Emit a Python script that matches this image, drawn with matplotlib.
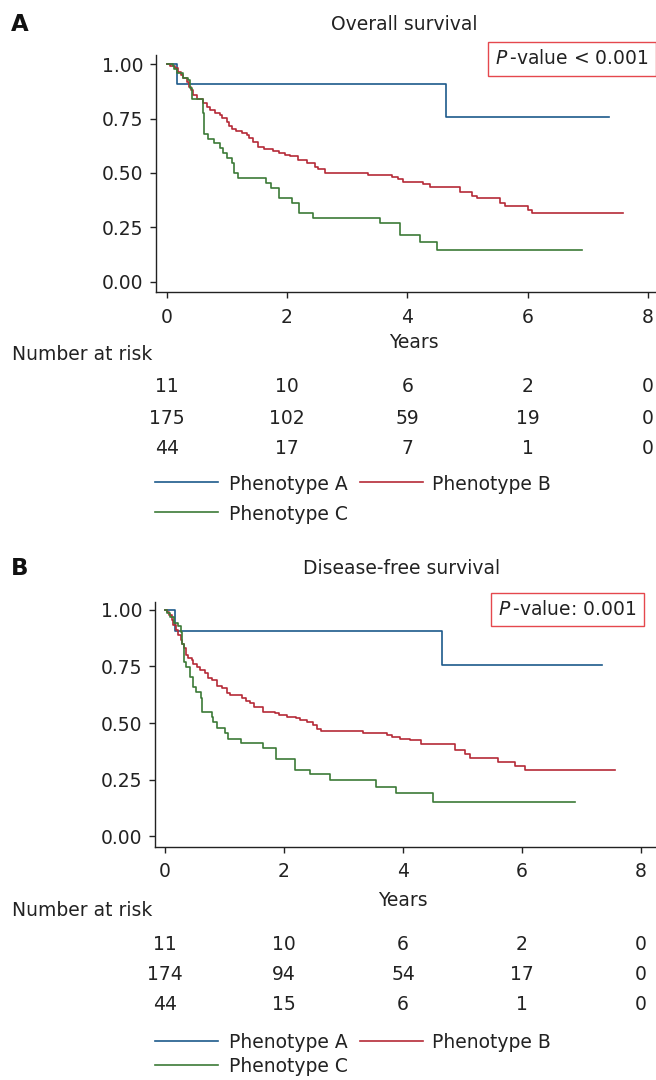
import numpy as np
import matplotlib
matplotlib.use('Agg')
import matplotlib.pyplot as plt
from matplotlib.lines import Line2D
from matplotlib.transforms import blended_transform_factory

# ---- data (years, survival probability) ----
os_a_t = [0, 0.17, 4.65, 7.35]
os_a_s = [1.0, 0.909, 0.758, 0.758]

os_b_t = [0, 0.055, 0.138, 0.194, 0.233, 0.277, 0.332, 0.377, 0.399, 0.443,
          0.498, 0.598, 0.665, 0.72, 0.803, 0.886, 0.914, 0.997, 1.04, 1.08,
          1.16, 1.25, 1.34, 1.36, 1.44, 1.51, 1.61, 1.77, 1.86, 1.97, 2.05,
          2.19, 2.33, 2.47, 2.52, 2.63, 3.35, 3.74, 3.85, 3.93, 4.26, 4.38,
          4.87, 5.07, 5.15, 5.54, 5.62, 6.01, 6.07, 7.58]
os_b_s = [1.0, 0.992, 0.981, 0.966, 0.951, 0.935, 0.92, 0.897, 0.882, 0.859,
          0.839, 0.821, 0.805, 0.79, 0.777, 0.767, 0.752, 0.736, 0.716, 0.701,
          0.692, 0.685, 0.675, 0.66, 0.644, 0.621, 0.609, 0.603, 0.593, 0.584,
          0.578, 0.56, 0.545, 0.529, 0.517, 0.501, 0.491, 0.483, 0.471, 0.46,
          0.448, 0.437, 0.414, 0.396, 0.384, 0.364, 0.35, 0.33, 0.315, 0.315]

os_c_t = [0, 0.1, 0.122, 0.166, 0.266, 0.36, 0.388, 0.427, 0.598, 0.626,
          0.692, 0.786, 0.886, 0.942, 0.997, 1.08, 1.12, 1.18, 1.65, 1.73,
          1.87, 2.08, 2.205, 2.44, 3.55, 3.88, 4.21, 4.5, 6.9]
os_c_s = [1.0, 0.992, 0.977, 0.958, 0.935, 0.928, 0.89, 0.839, 0.775, 0.679,
          0.656, 0.637, 0.614, 0.591, 0.568, 0.545, 0.501, 0.476, 0.453, 0.43,
          0.386, 0.36, 0.317, 0.294, 0.268, 0.215, 0.181, 0.146, 0.146]

dfs_a_t = [0, 0.168, 4.655, 7.35]
dfs_a_s = [1.0, 0.908, 0.757, 0.757]

dfs_b_t = [0, 0.04, 0.073, 0.112, 0.14, 0.185, 0.224, 0.263, 0.28, 0.319,
           0.353, 0.392, 0.448, 0.476, 0.543, 0.588, 0.672, 0.728, 0.784,
           0.879, 0.952, 1.036, 1.092, 1.288, 1.36, 1.43, 1.50, 1.65, 1.85,
           1.91, 2.05, 2.2, 2.27, 2.38, 2.48, 2.55, 2.63, 3.33, 3.73, 3.81,
           3.95, 4.12, 4.31, 4.87, 5.04, 5.13, 5.60, 5.88, 6.05, 7.57]
dfs_b_s = [1.0, 0.99, 0.978, 0.956, 0.934, 0.912, 0.889, 0.867, 0.848, 0.833,
           0.801, 0.789, 0.779, 0.76, 0.749, 0.735, 0.72, 0.70, 0.69, 0.665,
           0.656, 0.631, 0.624, 0.609, 0.597, 0.588, 0.569, 0.55, 0.543,
           0.535, 0.528, 0.521, 0.513, 0.503, 0.491, 0.473, 0.464, 0.457,
           0.447, 0.44, 0.429, 0.425, 0.406, 0.381, 0.361, 0.344, 0.329,
           0.311, 0.292, 0.292]

dfs_c_t = [0, 0.039, 0.084, 0.151, 0.224, 0.263, 0.28, 0.319, 0.353, 0.42,
           0.476, 0.521, 0.599, 0.616, 0.784, 0.812, 0.868, 1.008, 1.064,
           1.277, 1.64, 1.87, 2.18, 2.43, 2.78, 3.54, 3.89, 4.50, 6.89]
dfs_c_s = [1.0, 0.985, 0.97, 0.941, 0.93, 0.904, 0.848, 0.771, 0.749, 0.705,
           0.661, 0.636, 0.609, 0.547, 0.528, 0.503, 0.476, 0.454, 0.429,
           0.41, 0.388, 0.339, 0.292, 0.273, 0.248, 0.218, 0.189, 0.149, 0.149]

risk_times = [0, 2, 4, 6, 8]
os_risk = [[11, 10, 6, 2, 0], [175, 102, 59, 19, 0], [44, 17, 7, 1, 0]]
dfs_risk = [[11, 10, 6, 2, 0], [174, 94, 54, 17, 0], [44, 15, 6, 1, 0]]

groups = ['Phenotype A', 'Phenotype B', 'Phenotype C']
colors = ['#1d5a8b', '#b52a37', '#3c7a37']

W, H = 656, 1080
FS = 13.5
plt.rcParams['font.family'] = ['DejaVu Sans']
plt.rcParams['mathtext.fontset'] = 'dejavusans'

fig = plt.figure(figsize=(W / 100, H / 100), dpi=100)


def fx(px):
    return px / W


def fy(py):
    return 1 - py / H


def panel(letter, title, pval, curves, risk, box, geo, xlim, ylim, rows):
    left, right, top, bottom = geo
    ax = fig.add_axes([fx(left), fy(bottom), fx(right) - fx(left), fy(top) - fy(bottom)])
    for (t, s), c in zip(curves, colors):
        ax.step(t, s, where='post', color=c, lw=1.2)
    ax.set_xlim(*xlim)
    ax.set_ylim(*ylim)
    ax.set_xticks([0, 2, 4, 6, 8])
    ax.set_yticks([0, 0.25, 0.5, 0.75, 1.0])
    ax.set_yticklabels([f'{v:.2f}' for v in [0, 0.25, 0.5, 0.75, 1.0]])
    for side in ('top', 'right'):
        ax.spines[side].set_visible(False)
    for side in ('left', 'bottom'):
        ax.spines[side].set_color('#222222')
        ax.spines[side].set_linewidth(1.0)
    ax.tick_params(axis='both', direction='out', length=4.3, width=1.0,
                   color='#222222', labelsize=FS, labelcolor='#222222')
    ax.tick_params(axis='y', pad=5)
    ax.tick_params(axis='x', pad=7)

    # panel letter, title, p-value box
    fig.text(fx(20), fy(rows['letter']), letter, fontsize=16.5, fontweight='bold',
             ha='center', va='center_baseline', color='#111111')
    fig.text(fx(rows['title_x']), fy(rows['letter']), title, fontsize=FS,
             ha='center', va='center_baseline', color='#222222')
    fig.text(fx(box[0]), fy(box[1]), pval, fontsize=FS, ha='center',
             va='center_baseline', color='#222222',
             bbox=dict(boxstyle='square,pad=0.38', fc='white', ec='#e5484d', lw=1.0))

    fig.text(fx(rows['years_x']), fy(rows['years']), 'Years', fontsize=FS,
             ha='center', va='center_baseline', color='#222222')
    fig.text(fx(12), fy(rows['nar']), 'Number at risk', fontsize=FS,
             ha='left', va='center_baseline', color='#222222')
    tr = blended_transform_factory(ax.transData, fig.transFigure)
    for row, yy in zip(risk, rows['risk']):
        for t, n in zip(risk_times, row):
            ax.text(t, fy(yy), str(n), transform=tr, fontsize=FS, ha='center',
                    va='center_baseline', color='#222222', clip_on=False)

    # legend
    leg = [(155, 218, 229, rows['leg'][0]), (360, 423, 432, rows['leg'][0]),
           (155, 218, 229, rows['leg'][1])]
    for (x0, x1, xt, yy), lab, c in zip(leg, groups, colors):
        fig.add_artist(Line2D([fx(x0), fx(x1)], [fy(yy), fy(yy)], color=c, lw=1.2,
                              transform=fig.transFigure))
        fig.text(fx(xt), fy(yy), lab, fontsize=FS, ha='left',
                 va='center_baseline', color='#222222')
    return ax


panel('A', 'Overall survival', r'$P\,$-value < 0.001',
      [(os_a_t, os_a_s), (os_b_t, os_b_s), (os_c_t, os_c_s)], os_risk,
      box=(572, 57), geo=(156, 655, 55, 292),
      xlim=(-0.178, 8.117), ylim=(-0.0474, 1.0428),
      rows=dict(letter=22, title_x=404, years_x=414, years=341, nar=352,
                risk=[385, 416, 447], leg=[482, 512]))

panel('B', 'Disease-free survival', r'$P\,$-value: 0.001',
      [(dfs_a_t, dfs_a_s), (dfs_b_t, dfs_b_s), (dfs_c_t, dfs_c_s)], dfs_risk,
      box=(567.5, 607.5), geo=(155, 655, 601.7, 846.7),
      xlim=(-0.168, 8.235), ylim=(-0.0473, 1.0367),
      rows=dict(letter=566, title_x=402, years_x=403, years=899, nar=908,
                risk=[942, 973, 1003], leg=[1041, 1065]))

fig.savefig('out.png', dpi=100)
